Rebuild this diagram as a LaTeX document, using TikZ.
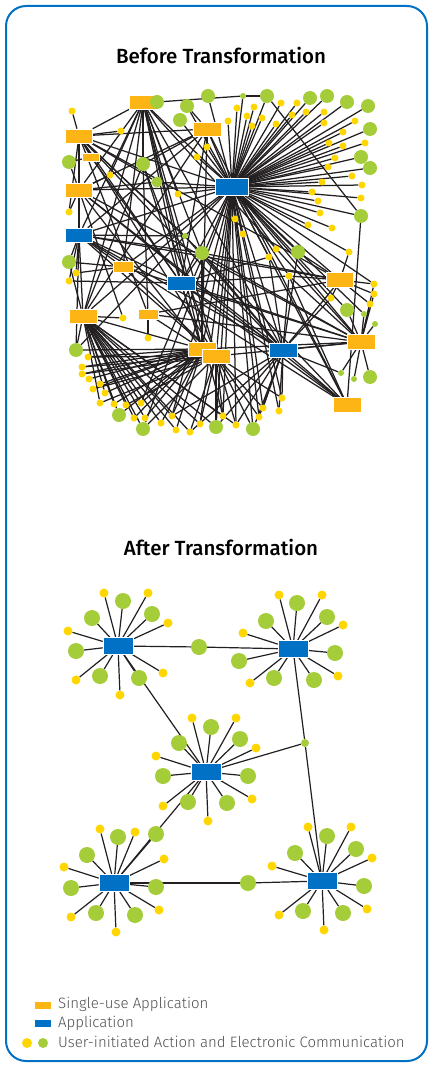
\documentclass[tikz,border=0pt]{standalone}
\usepackage{fontspec}
\setmainfont{Fira Sans}[BoldFont={Fira Sans Medium}]
\newfontfamily\legendfont{Fira Sans Light}
\usetikzlibrary{backgrounds}
\definecolor{singleorange}{RGB}{253,181,21}
\definecolor{appblue}{RGB}{0,113,197}
\definecolor{actyellow}{RGB}{255,214,0}
\definecolor{actgreen}{RGB}{164,205,57}
\definecolor{edgeblack}{RGB}{35,31,32}
\definecolor{legendgray}{RGB}{80,80,80}
\definecolor{frameblue}{RGB}{0,113,197}

\begin{document}
\begin{tikzpicture}
[x=1pt,y=-1pt,
  singledecorate/.style={shape=rectangle,fill=singleorange,draw=white,line width=0.5pt,inner sep=0pt},
  appdecorate/.style={shape=rectangle,fill=appblue,draw=white,line width=0.5pt,inner sep=0pt},
  yellowdecorate/.style={shape=circle,fill=actyellow,inner sep=0pt,minimum size=#1},
  yellowdecorate/.default=7pt,
  greendecorate/.style={shape=circle,fill=actgreen,inner sep=0pt,minimum size=#1},
  greendecorate/.default=14pt,
  linedecorate/.style={-,draw=edgeblack,line width=1.25pt},
  titledecorate/.style={font=\fontsize{20.5}{24}\selectfont\bfseries,text=black},
  legenddecorate/.style={anchor=west,font=\legendfont\fontsize{15}{17}\selectfont,text=legendgray,inner sep=0pt}]
\useasboundingbox (0,0) rectangle (432,1067);
\draw[frameblue,line width=2pt,rounded corners=20pt] (6,6) rectangle (427,1061);

\node[titledecorate] (beforetitle) at (221,55) {Before Transformation};
\node[titledecorate] (aftertitle) at (221,547) {After Transformation};

%% ---------------- before: nodes
\foreach \nodename/\x/\y/\w/\h in {s1/143/102/27/14, s2/79/136/27/14,
  s3/207/129/28/14, s4/91/157/17/8, s5/79/190/27/14, s6/123/267/20/11,
  s7/83/316/28/14, s8/148/314/20/10, s9/202/349/28/14, s10/216/356/28/14,
  s11/340/280/27/15, s12/361/342/28/15, s13/347/405/28/15} {
  \node (\nodename) at (\x,\y) [singledecorate,minimum width=\w pt,minimum height=\h pt] {};
}
\foreach \nodename/\x/\y/\w/\h in {p1/232/187/33/17, p2/79/235/27/14,
  p3/181/283/28/14, p4/283/350/28/14} {
  \node (\nodename) at (\x,\y) [appdecorate,minimum width=\w pt,minimum height=\h pt] {};
}
\foreach \nodename/\x/\y in {g1/157/102, g2/208/96, g3/187/106, g4/180/120,
  g5/69/162, g6/143/164, g8/202/253, g9/69/262, g10/267/96, g11/310/98,
  g12/327/96, g13/347/102, g14/368/106, g15/370/129, g16/361/157,
  g17/370/168, g18/361/216, g19/298/252, g20/347/310, g21/370/377,
  g22/76/350, g23/119/415, g24/143/429, g25/216/427, g26/253/429} {
  \node (\nodename) at (\x,\y) [greendecorate] {};
}
\node (g7) at (157,182) [greendecorate=11pt] {};
\foreach \nodename/\x/\y in {h1/243/96, h2/185/236, h3/364/314,
  h4/375/324, h5/341/373, h6/354/379} {
  \node (\nodename) at (\x,\y) [greendecorate=6pt] {};
}
\foreach \nodename/\x/\y in {y1/72/111, y2/121/131, y3/237/108, y4/247/116,
  y5/228/121, y6/207/147, y7/197/157, y8/110/175, y9/178/194, y10/69/212,
  y11/235/219, y12/243/234, y13/281/103, y14/297/103, y15/254/107,
  y16/262/118, y17/292/115, y18/306/112, y19/324/112, y20/252/126,
  y21/276/124, y22/324/123, y23/355/121, y24/343/132, y25/329/143,
  y26/365/143, y27/343/146, y28/335/158, y29/328/167, y30/352/176,
  y31/322/182, y32/362/185, y33/312/192, y34/318/201, y35/361/198,
  y36/320/213, y37/308/225, y38/332/228, y39/276/249, y40/269/257,
  y41/349/252, y42/76/273, y43/69/281, y44/123/318, y45/148/338,
  y46/289/276, y47/374/284, y48/374/294, y49/331/298, y50/370/304,
  y51/88/357, y52/82/367, y53/82/374, y54/89/379, y55/93/389,
  y56/100/384, y57/105/393, y58/100/403, y59/114/404, y60/126/405,
  y61/141/403, y62/134/418, y63/145/418, y64/172/416, y65/161/423,
  y66/176/430, y67/190/432, y68/200/424, y69/223/416, y70/236/425,
  y71/282/398, y72/263/408, y73/279/411, y74/259/417} {
  \node (\nodename) at (\x,\y) [yellowdecorate] {};
}

%% ---------------- before: edges
\begin{scope}[on background layer]
\path
\foreach \endnode in {h1, g10, y13, y14, g11, g12, g13, g14, y3, y4, y5,
  y15, y16, y17, y18, y19, y20, y21, y22, y23, g15, y24, y25, y26, y27, g16,
  y28, g17, y29, y30, y31, y32, y33, y34, y35, y36, g18, y37, y38, y11, y12,
  y39, y40, g19, y41, y6, y7, g2, g3, g4, s3, y9, g7, s1, s2, s5, p2, p3,
  s6, s7, s9, s10, p4, s11, s12, s13, y71, y73, g26, y70, y69, g25, y68,
  y64, g24, y72, y74, y46, y49, h3, g20, y47, g22, y61} {
  (p1) edge[linedecorate] (\endnode)
};
\path
\foreach \startnode/\endnode in {s1/g1, g1/h1, h1/g10, g10/g18,
  s1/s2, s1/s5, s1/p2, s1/g6, s1/y8, s1/s7, s1/s9, s1/p4, s1/g8, s1/s12,
  s1/p3, s1/s6, s1/y9, s1/s10, s1/y69,
  s2/y1, s2/y2, s2/s3, s2/s4, s2/s5, s2/p2, s2/p3, s2/s8, s2/g7, s2/p4,
  s2/s10, s2/g8, s2/h2, s2/s11, s2/y10,
  s3/g6, s3/p2, s3/s5, s3/s7, s3/y6, s3/p3, s3/g3, s3/s13, s3/s9,
  s4/g5, s4/p3,
  s5/g5, s5/y8, s5/y10, s5/p2, s5/s9, s5/s12, s5/p4, s5/s13, s5/g7, s5/y44,
  p2/g9, p2/s7, p2/s6, p2/p3, p2/h2, p2/g8, p2/s10, p2/p4, p2/s11, p2/s13,
  p2/g22, p2/y42, p2/y43,
  g6/s7, g6/s8, g6/s9, g6/s10,
  p3/s9, p3/s13, p3/s12, p3/p4, p3/y40, p3/y43, p3/y46, p3/g8,
  s6/g9, s6/y42, s6/s12, s6/s10,
  s7/y44, s7/g9, s7/g22, s7/y57, s7/y58, s7/y59, s7/y60, s7/y61, s7/y62,
  s7/y63, s7/y64, s7/y65, s7/y66, s7/y67, s7/g23, s7/g24, s7/y68, s7/y70,
  s7/y69, s7/g25, s7/s9,
  s8/y45, s8/s12, s8/s11, s8/s9,
  s9/g22, s9/y51, s9/y52, s9/y53, s9/y54, s9/y55, s9/y56, s9/y57, s9/y59,
  s9/y61, s9/g23, s9/y62, s9/y63, s9/y65, s9/y64, s9/y66, s9/s12, s9/g8,
  s10/y51, s10/y52, s10/y53, s10/y55, s10/y58, s10/y60, s10/g24, s10/y67,
  s10/y68, s10/g25, s10/y69, s10/y70, s10/y74, s10/y72, s10/g26, s10/s12,
  s10/y71,
  p4/y71, p4/y72, p4/y73, p4/y74, p4/g26, p4/y70, p4/s13, p4/s12, p4/s11,
  p4/y46, p4/y49, p4/h5, p4/g19, p4/g8, p4/y40, p4/y67, p4/y64, p4/g25,
  p4/h2,
  s11/y47, s11/y48, s11/y49, s11/y41, s11/y50, s11/g8, s11/y46, s11/g19,
  s12/h3, s12/h4, s12/g20, s12/y50, s12/y47, s12/y48, s12/h6, s12/g21,
  s12/y46, s12/g8, s12/h5,
  s13/g18, s13/y46, s13/g8} {
  (\startnode) edge[linedecorate] (\endnode)
};
\end{scope}

%% ---------------- after: hubs and links
\foreach \nodename/\x/\y in {ha/118/646, hb/293/649, hc/206/772,
  hd/114/883, he/322/881} {
  \node (\nodename) at (\x,\y) [appdecorate,minimum width=30pt,minimum height=17pt] {};
}
\foreach \nodename/\x/\y in {ab/199/647, de/248/883} {
  \node (\nodename) at (\x,\y) [greendecorate=16pt] {};
}
\node (bc) at (305,743) [greendecorate=8pt] {};

%% ---------------- after: satellites
\foreach \nodename/\x/\y in {a2/123/601, a4/92/618, a5/152/614, a8/76/651,
  a10/100/676, a12/139/678, b2/297/603, b4/266/621, b5/327/617,
  b8/239/661, b9/335/653, b11/274/678, b12/314/680, c2/211/727,
  c4/179/743, c5/240/739, c8/163/776, c9/248/776, c11/188/802,
  c12/227/803, d2/118/837, d4/156/834, d5/87/855, d8/71/888, d9/156/887,
  d11/96/913, d12/135/915, e2/327/836, e4/295/853, e5/356/849,
  e8/364/886, e9/303/911, e11/343/913} {
  \node (\nodename) at (\x,\y) [greendecorate=16pt] {};
}
\foreach \nodename/\x/\y in {a1/104/593, a3/148/593, a6/168/623, a7/68/631,
  a9/76/680, a11/120/695, a13/163/673, b1/279/595, b3/322/595,
  b6/343/625, b7/243/633, b10/250/683, b13/338/676, c1/192/718,
  c3/236/718, c6/256/748, c7/156/756, c10/163/806, c13/252/799,
  c14/208/821, d1/100/829, d3/135/832, d6/164/859, d7/64/867,
  d10/71/917, d13/159/910, d14/116/932, e1/308/827, e3/351/827,
  e6/372/858, e7/272/866, e10/279/915, e13/367/909, e14/324/930} {
  \node (\nodename) at (\x,\y) [yellowdecorate=9pt] {};
}

%% ---------------- after: edges
\begin{scope}[on background layer]
\path
\foreach \hub/\leaf in {ha/a1, ha/a2, ha/a3, ha/a4, ha/a5, ha/a6, ha/a7,
  ha/a8, ha/a9, ha/a10, ha/a11, ha/a12, ha/a13,
  hb/b1, hb/b2, hb/b3, hb/b4, hb/b5, hb/b6, hb/b7, hb/b8, hb/b9, hb/b10,
  hb/b11, hb/b12, hb/b13,
  hc/c1, hc/c2, hc/c3, hc/c4, hc/c5, hc/c6, hc/c7, hc/c8, hc/c9, hc/c10,
  hc/c11, hc/c12, hc/c13, hc/c14,
  hd/d1, hd/d2, hd/d3, hd/d4, hd/d5, hd/d6, hd/d7, hd/d8, hd/d9, hd/d10,
  hd/d11, hd/d12, hd/d13, hd/d14,
  he/e1, he/e2, he/e3, he/e4, he/e5, he/e6, he/e7, he/e8, he/e9, he/e10,
  he/e11, he/e13, he/e14,
  ha/ab, ab/hb, ha/hc, hc/bc, hb/bc, bc/he, hc/hd, hd/de, de/he} {
  (\hub) edge[linedecorate,line width=1.2pt] (\leaf)
};
\end{scope}

%% ---------------- legend
\node (legsingle) at (43,1005) [singledecorate,draw=none,minimum width=16pt,minimum height=7pt] {};
\node (legapp) at (43,1023) [appdecorate,draw=none,minimum width=16pt,minimum height=7pt] {};
\node (legyellow) at (27,1043) [yellowdecorate=10pt] {};
\node (leggreen) at (43,1043) [greendecorate=10pt] {};
\node[legenddecorate] (legsingletext) at (58,1004) {Single-use Application};
\node[legenddecorate] (legapptext) at (58,1023) {Application};
\node[legenddecorate] (legacttext) at (58,1042) {User-initiated Action and Electronic Communication};
\end{tikzpicture}
\end{document}
